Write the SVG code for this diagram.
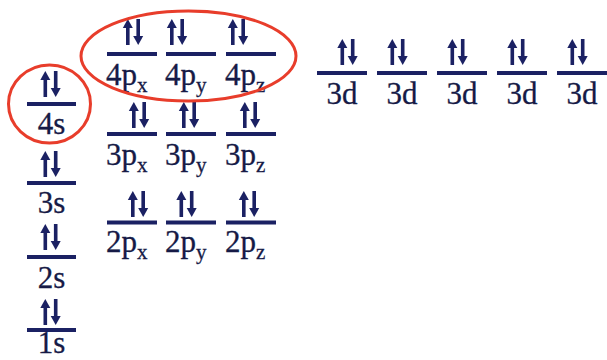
<svg xmlns="http://www.w3.org/2000/svg" xmlns:xlink="http://www.w3.org/1999/xlink" width="607" height="360" viewBox="0 0 607 360">
<style>
.lvl{fill:#1b2163}
.lab{font-family:"Liberation Serif","Times New Roman",serif;font-size:31px;fill:#161a46;stroke:#161a46;stroke-width:0.3}
.sub{font-size:21px}
.ring{fill:none;stroke:#e83d2b;stroke-width:3}
</style>
<defs>
<g id="pair" fill="#1b2163">
<rect x="-7" y="-18" width="3.6" height="18"/>
<polygon points="-10.2,-17 -0.2,-17 -5.2,-26"/>
<rect x="3.4" y="-26" width="3.6" height="18"/>
<polygon points="0.2,-9 10.2,-9 5.2,0"/>
</g>
</defs>
<rect width="607" height="360" fill="#ffffff"/>

<g id="orb-1s"><rect class="lvl" x="27" y="328" width="49" height="4"/><use xlink:href="#pair" x="50.5" y="325"/><text class="lab" x="51.5" y="353" text-anchor="middle">1s</text></g>
<g id="orb-2s"><rect class="lvl" x="27" y="255" width="49" height="4"/><use xlink:href="#pair" x="50.5" y="250"/><text class="lab" x="51.5" y="288" text-anchor="middle">2s</text></g>
<g id="orb-3s"><rect class="lvl" x="27" y="181" width="49" height="4"/><use xlink:href="#pair" x="50.5" y="177"/><text class="lab" x="51.5" y="213" text-anchor="middle">3s</text></g>
<g id="orb-4s"><rect class="lvl" x="27" y="102" width="49" height="4"/><use xlink:href="#pair" x="50.5" y="97"/><text class="lab" x="51.5" y="134" text-anchor="middle">4s</text></g>

<g id="orb-2px"><rect class="lvl" x="107" y="220.5" width="50" height="4"/><use xlink:href="#pair" x="138" y="217"/><text class="lab" x="106" y="252">2p<tspan class="sub" dy="7">x</tspan></text></g>
<g id="orb-2py"><rect class="lvl" x="166" y="220.5" width="50" height="4"/><use xlink:href="#pair" x="186.5" y="217"/><text class="lab" x="165" y="252">2p<tspan class="sub" dy="7">y</tspan></text></g>
<g id="orb-2pz"><rect class="lvl" x="226" y="220.5" width="50" height="4"/><use xlink:href="#pair" x="249" y="217"/><text class="lab" x="225" y="252">2p<tspan class="sub" dy="7">z</tspan></text></g>

<g id="orb-3px"><rect class="lvl" x="107" y="132" width="50" height="4"/><use xlink:href="#pair" x="139" y="128"/><text class="lab" x="106" y="165">3p<tspan class="sub" dy="7">x</tspan></text></g>
<g id="orb-3py"><rect class="lvl" x="166" y="132" width="50" height="4"/><use xlink:href="#pair" x="189" y="128"/><text class="lab" x="165" y="165">3p<tspan class="sub" dy="7">y</tspan></text></g>
<g id="orb-3pz"><rect class="lvl" x="226" y="132" width="50" height="4"/><use xlink:href="#pair" x="250" y="128"/><text class="lab" x="225" y="165">3p<tspan class="sub" dy="7">z</tspan></text></g>

<g id="orb-4px"><rect class="lvl" x="107" y="52" width="50" height="4"/><use xlink:href="#pair" x="133" y="45"/><text class="lab" x="106" y="85">4p<tspan class="sub" dy="7">x</tspan></text></g>
<g id="orb-4py"><rect class="lvl" x="166" y="52" width="50" height="4"/><use xlink:href="#pair" x="177" y="45"/><text class="lab" x="165" y="85">4p<tspan class="sub" dy="7">y</tspan></text></g>
<g id="orb-4pz"><rect class="lvl" x="226" y="52" width="50" height="4"/><use xlink:href="#pair" x="238" y="45"/><text class="lab" x="225" y="85">4p<tspan class="sub" dy="7">z</tspan></text></g>

<g id="orb-3d-1"><rect class="lvl" x="317" y="71" width="50" height="4"/><use xlink:href="#pair" x="347.5" y="65"/><text class="lab" x="342" y="104" text-anchor="middle">3d</text></g>
<g id="orb-3d-2"><rect class="lvl" x="377" y="71" width="50" height="4"/><use xlink:href="#pair" x="397.5" y="65"/><text class="lab" x="402" y="104" text-anchor="middle">3d</text></g>
<g id="orb-3d-3"><rect class="lvl" x="437" y="71" width="50" height="4"/><use xlink:href="#pair" x="457.5" y="65"/><text class="lab" x="462" y="104" text-anchor="middle">3d</text></g>
<g id="orb-3d-4"><rect class="lvl" x="497" y="71" width="50" height="4"/><use xlink:href="#pair" x="517.5" y="65"/><text class="lab" x="522" y="104" text-anchor="middle">3d</text></g>
<g id="orb-3d-5"><rect class="lvl" x="557" y="71" width="50" height="4"/><use xlink:href="#pair" x="577.5" y="65"/><text class="lab" x="582" y="104" text-anchor="middle">3d</text></g>

<g id="highlight-4s"><ellipse class="ring" cx="49.5" cy="104" rx="41" ry="39"/></g>
<g id="highlight-4p"><ellipse class="ring" cx="188.5" cy="56" rx="107.5" ry="45"/></g>
<g id="connectors"/>
</svg>
